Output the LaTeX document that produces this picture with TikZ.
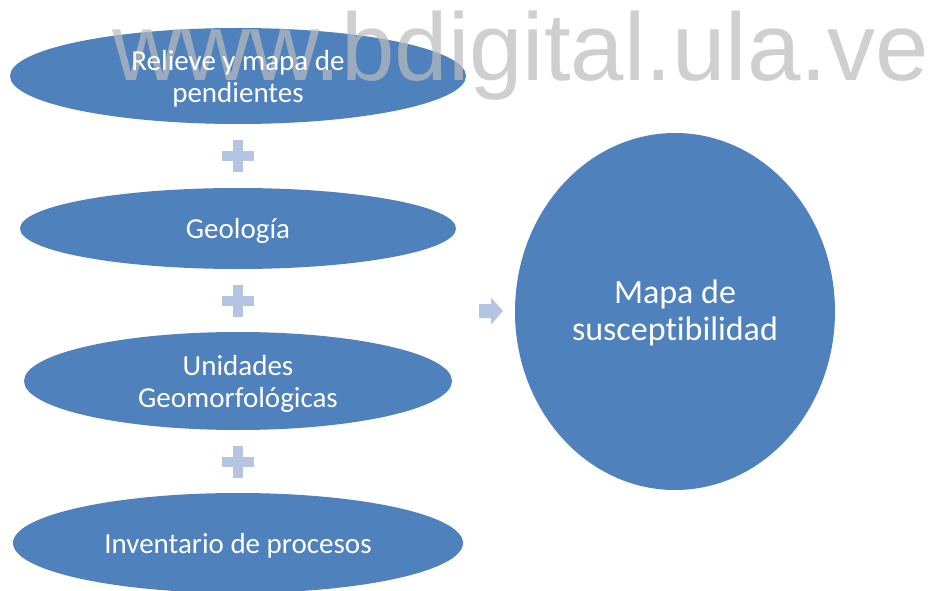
\documentclass[tikz,border=0pt]{standalone}
\usepackage{fontspec}
\setmainfont{Carlito}[RawFeature=-liga]
\newfontfamily\wmfont{Liberation Sans}
\usetikzlibrary{shapes.geometric,calc}
\definecolor{ovalblue}{RGB}{79,129,189}
\definecolor{paleblue}{RGB}{180,197,225}
\definecolor{wmgray}{RGB}{188,188,188}
\tikzset{
  oval/.style={ellipse,fill=ovalblue,draw=none,inner sep=0pt},
  ovaltext/.style={text=white,align=center,yshift=-2.5pt,font=\fontsize{29}{32}\selectfont},
  plussign/.style={fill=paleblue,draw=none},
}
\begin{document}
\begin{tikzpicture}[x=1pt,y=-1pt]
\useasboundingbox (0,0) rectangle (929,591);
\fill[white] (0,0) rectangle (929,591);
% ovals
\node[oval,minimum width=456pt,minimum height=96pt] (e1) at (238,76) {};
\node[oval,minimum width=436pt,minimum height=81pt] (e2) at (238,228.5) {};
\node[oval,minimum width=428pt,minimum height=98pt] (e3) at (238,381) {};
\node[oval,minimum width=450pt,minimum height=100pt] (e4) at (238,543) {};
\node[ellipse,fill=ovalblue,inner sep=0pt,minimum width=320pt,minimum height=357pt] (m) at (675,311.5) {};
% watermark
\node[anchor=base west,inner sep=0pt,text=wmgray,text opacity=0.7,font=\wmfont\fontsize{96}{96}\selectfont] (wm) at (112,81) {www.bdigital.ula.ve};
% labels
\node[ovaltext] (t1) at (e1.center) {Relieve y mapa de\\pendientes};
\node[ovaltext] (t2) at (e2.center) {Geología};
\node[ovaltext] (t3) at (e3.center) {Unidades\\Geomorfológicas};
\node[ovaltext] (t4) at (e4.center) {Inventario de procesos};
\node[text=white,align=center,yshift=-1.5pt,font=\fontsize{34}{37}\selectfont] (tm) at (m.center) {Mapa de\\susceptibilidad};
% plus signs
\foreach \a/\b/\n in {e1/e2/p1,e2/e3/p2,e3/e4/p3}{
  \coordinate (\n) at ($(\a.south)!0.5!(\b.north)$);
  \fill[plussign] ($(\n)+(-16,-5)$) rectangle ($(\n)+(16,5)$);
  \fill[plussign] ($(\n)+(-5,-16)$) rectangle ($(\n)+(5,16)$);
}
% arrow
\coordinate (ar) at (491,311);
\fill[plussign] ($(ar)+(-12,-7)$) -- ($(ar)+(0,-7)$) -- ($(ar)+(0,-13.5)$) -- ($(ar)+(12,0)$) -- ($(ar)+(0,13.5)$) -- ($(ar)+(0,7)$) -- ($(ar)+(-12,7)$) -- cycle;
\end{tikzpicture}
\end{document}
